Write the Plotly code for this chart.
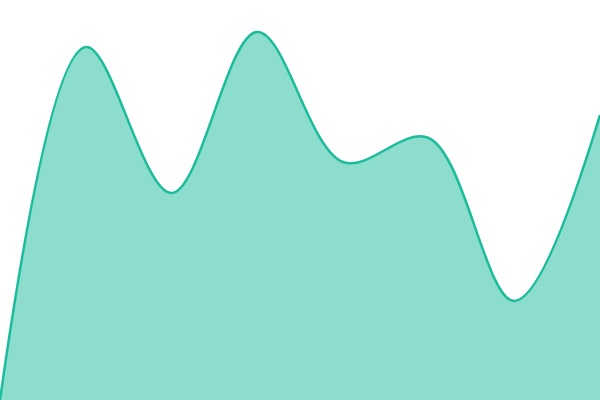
import plotly.graph_objects as go

# category positions and series values
xs = [0, 1, 2, 3, 4, 5, 6, 7]
values = [0, 353, 207, 368, 238, 262, 99, 285]

area = go.Scatter(
    x=xs,
    y=values,
    mode="lines",
    line=dict(shape="spline", smoothing=1, color="#1abc9c", width=2.5),
    fill="tozeroy",
    fillcolor="rgba(26, 188, 156, 0.5)",
    hoverinfo="skip")

layout = dict(
    width=600, height=400,
    margin=dict(l=0, r=0, t=0, b=0),
    paper_bgcolor="white",
    plot_bgcolor="white",
    showlegend=False,
    xaxis=dict(visible=False, range=[0, 7]),
    yaxis=dict(visible=False, range=[0, 400]))

fig = go.Figure(data=[area], layout=layout)
# drop the browser's default body margin so the chart sits at 0,0
fig.write_html("out.html", config=dict(displayModeBar=False),
               post_script="document.body.style.margin='0';")
